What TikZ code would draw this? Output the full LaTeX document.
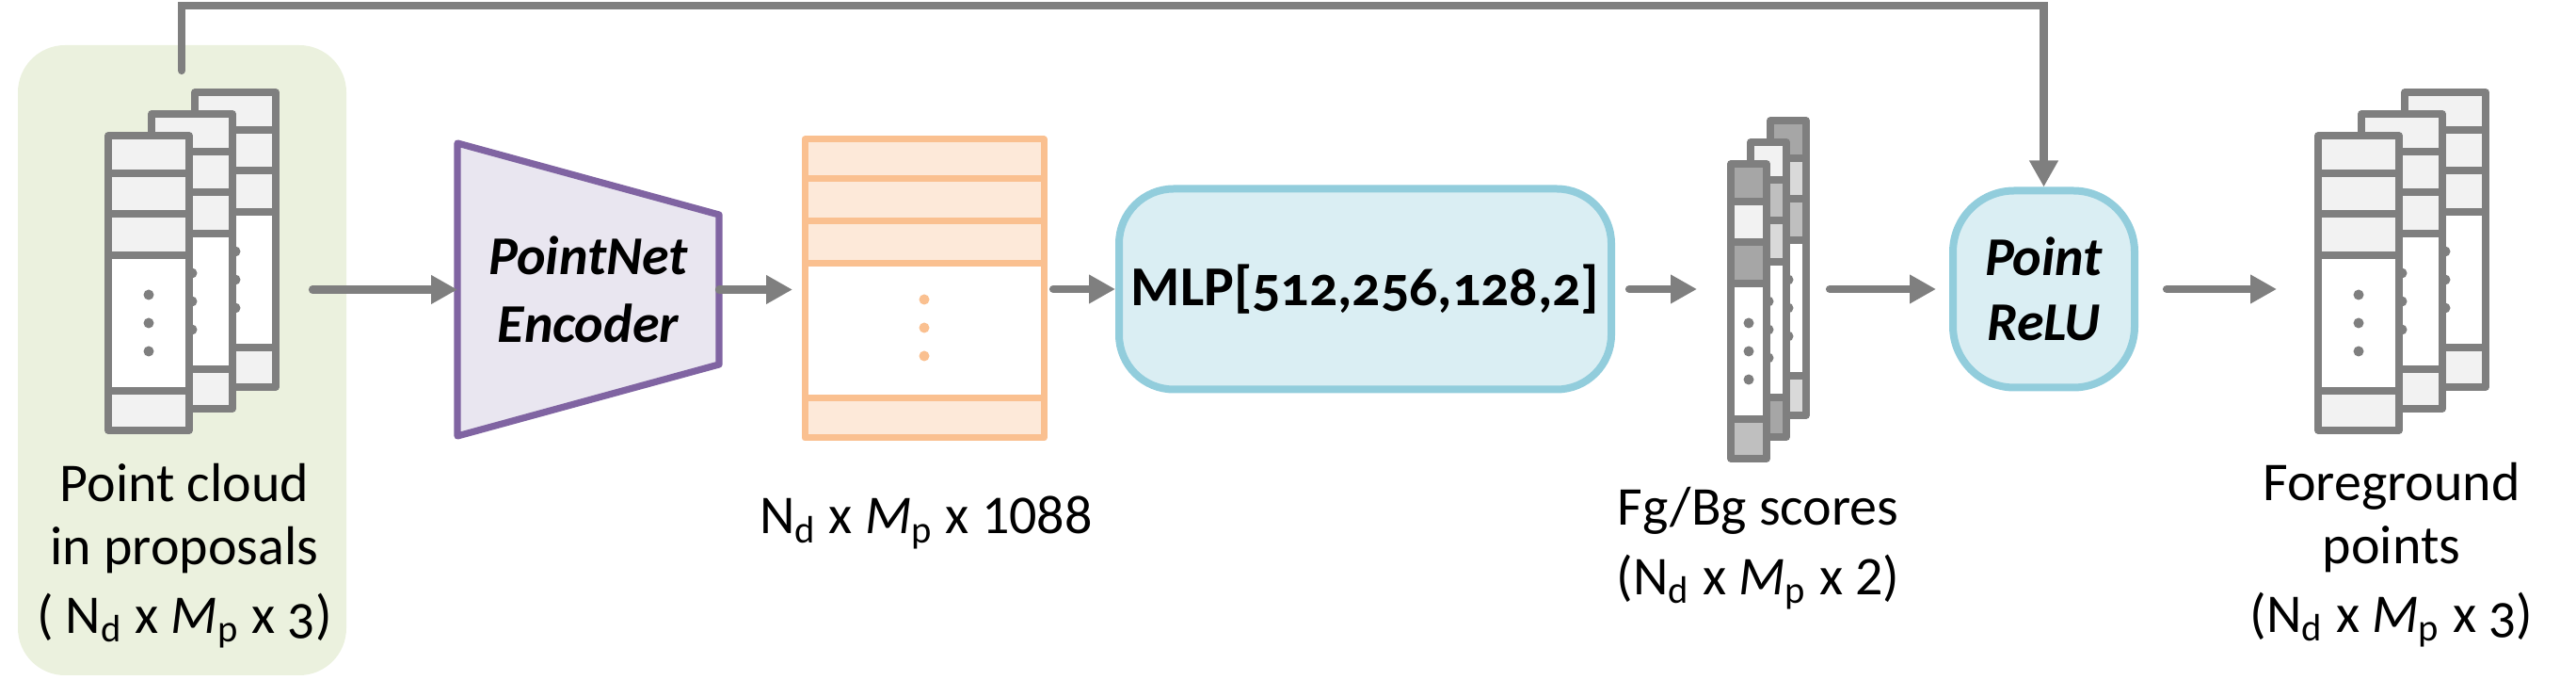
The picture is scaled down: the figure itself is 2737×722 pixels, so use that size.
\documentclass[tikz,border=0pt]{standalone}
\usepackage{fontspec}
\setmainfont{Carlito}
\newfontfamily\onumfont{Carlito}[Numbers=OldStyle]
\usetikzlibrary{arrows.meta,calc}
\definecolor{cgray}{HTML}{7F7F7F}
\definecolor{rowA}{HTML}{A6A6A6}
\definecolor{rowB}{HTML}{BFBFBF}
\definecolor{rowC}{HTML}{D9D9D9}
\definecolor{rowD}{HTML}{F2F2F2}
\definecolor{cgreen}{HTML}{EBF1DE}
\definecolor{cpurple}{HTML}{8064A2}
\definecolor{cpurplefill}{HTML}{E9E6F0}
\definecolor{corange}{HTML}{FAC090}
\definecolor{corangefill}{HTML}{FDE9D9}
\definecolor{cblue}{HTML}{92CDDC}
\definecolor{cbluefill}{HTML}{DAEEF3}

% #1 x, #2 y (outer top-left), #3 outer width, #4-#6 top rows fill, #7 bottom row fill
\newcommand\stacktable[7]{%
  \fill[white] (#1+4,#2+4) rectangle (#1+#3-4,#2+317);
  \fill[#4] (#1+4,#2+4) rectangle (#1+#3-4,#2+44);
  \fill[#5] (#1+4,#2+44) rectangle (#1+#3-4,#2+87);
  \fill[#6] (#1+4,#2+87) rectangle (#1+#3-4,#2+131);
  \fill[#7] (#1+4,#2+275) rectangle (#1+#3-4,#2+317);
  \foreach \r in {173,203,233} \fill[cgray] (#1+#3/2,#2+\r) circle[radius=0.55mm];
  \draw[tblline] (#1+4,#2+4) rectangle (#1+#3-4,#2+317);
  \foreach \r in {44,87,131,275} \draw[tblline] (#1+4,#2+\r) -- (#1+#3-4,#2+\r);
}

\tikzset{
  tblline/.style={draw=cgray, line width=0.75mm, line join=round},
  hid/.style={inner sep=0pt, outer sep=0pt, draw=none},
  arr/.style={draw=cgray, line width=0.82mm, line cap=round, line join=miter,
    -{Triangle[length=2.8mm,width=2.9mm]}},
  lbl/.style={font=\fontsize{16.5}{18.8}\selectfont, inner sep=0pt},
  bif/.style={font=\fontsize{16.5}{20.4}\selectfont\bfseries\itshape, align=center},
  bluebox/.style={draw=cblue, fill=cbluefill, line width=0.8mm},
}

\begin{document}
\begin{tikzpicture}[x=0.1mm,y=-0.1mm]
\useasboundingbox (0,0) rectangle (2737,722);

% green background of the input
\node[hid, fill=cgreen, rounded corners=5mm, minimum width=34.9mm, minimum height=66.9mm] (pcbg) at (193.5,382.5) {};

% input point cloud stack
\stacktable{203}{94}{94}{rowD}{rowD}{rowD}{rowD}
\stacktable{157}{117}{94}{rowD}{rowD}{rowD}{rowD}
\stacktable{111}{140}{94}{rowD}{rowD}{rowD}{rowD}
\node[hid, minimum width=18.6mm, minimum height=36.7mm] (pcstack) at (204,277.5) {};
\coordinate (tap) at (193,75);
\coordinate (topline) at (0,6);

\node[lbl, anchor=base] (pclabel) at (196,533) {\begin{tabular}[t]{@{}c@{}}Point cloud\\in proposals\\[0.7mm]( N\textsubscript{d} x \textit{M}\textsubscript{p} x {\onumfont 3})\end{tabular}};

% PointNet encoder (trapezoid)
\draw[draw=cpurple, fill=cpurplefill, line width=0.72mm, line join=round]
  (486,152) -- (764,228) -- (764,387) -- (486,463) -- cycle;
\node[hid, bif, minimum width=27.8mm, minimum height=31.1mm] (enc) at (625,307.5) {PointNet\\Encoder};

% feature table (orange)
\node[hid, minimum width=26mm, minimum height=32.3mm] (feat) at (982,306.5) {};
\fill[white] (855,148) rectangle (1109,465);
\fill[corangefill] (855,148) rectangle (1109,280);
\fill[corangefill] (855,423) rectangle (1109,465);
\draw[draw=corange, line width=0.7mm, line join=round] (855,148) rectangle (1109,465);
\foreach \r in {190,235,280,423} \draw[draw=corange, line width=0.7mm] (855,\r) -- (1109,\r);
\foreach \r in {318,348,378} \fill[corange] (982,\r) circle[radius=0.55mm];
\node[lbl, anchor=base] (featlabel) at (984,567) {N\textsubscript{d} x \textit{M}\textsubscript{p} x 1088};

% MLP
\node[bluebox, rounded corners=5.8mm, minimum width=52.3mm, minimum height=21.3mm,
  font=\fontsize{17}{20}\selectfont\bfseries] (mlp) at (1450.5,307)
  {MLP[{\onumfont 512,256,128,2}]};

% Fg/Bg scores stack
\stacktable{1877}{124}{46}{rowA}{rowC}{rowB}{rowC}
\stacktable{1856}{147}{46}{rowD}{rowB}{rowC}{rowA}
\stacktable{1835}{170}{46}{rowA}{rowD}{rowA}{rowB}
\node[hid, minimum width=8.8mm, minimum height=36.8mm] (scores) at (1879,308) {};
\node[lbl, anchor=base] (scoreslabel) at (1868,558) {\begin{tabular}[t]{@{}c@{}}Fg/Bg scores\\[0.7mm](N\textsubscript{d} x \textit{M}\textsubscript{p} x 2)\end{tabular}};

% Point ReLU
\node[bluebox, bif, rounded corners=6.5mm, minimum width=19.3mm, minimum height=20.9mm,
  font=\fontsize{16.5}{19.6}\selectfont\bfseries\itshape] (relu) at (2171.5,307) {Point\\ReLU};

% foreground points stack
\stacktable{2551}{94}{94}{rowD}{rowD}{rowD}{rowD}
\stacktable{2505}{117}{94}{rowD}{rowD}{rowD}{rowD}
\stacktable{2459}{140}{94}{rowD}{rowD}{rowD}{rowD}
\node[hid, minimum width=18.6mm, minimum height=36.7mm] (fgstack) at (2552,277.5) {};
\node[lbl, anchor=base] (fglabel) at (2541,532) {\begin{tabular}[t]{@{}c@{}}Foreground\\points\\[0.7mm](N\textsubscript{d} x \textit{M}\textsubscript{p} x {\onumfont 3})\end{tabular}};

% connectors
\draw[arr] ($(pcstack.east |- enc.west)+(35,0)$) -- (enc.west);
\draw[arr] (enc.east) -- ($(feat.west |- enc.east)+(-10,0)$);
\draw[arr] ($(feat.east |- mlp.west)+(7,0)$) -- (mlp.west);
\draw[arr] ($(mlp.east)+(15,0)$) -- ($(scores.west |- mlp.east)+(-32,0)$);
\draw[arr] ($(scores.east |- relu.west)+(21,0)$) -- ($(relu.west)+(-14,0)$);
\draw[arr] ($(relu.east)+(30,0)$) -- ($(fgstack.west |- relu.east)+(-40,0)$);
\draw[arr] (tap) -- (tap |- topline) -| (relu.north);
\end{tikzpicture}
\end{document}
